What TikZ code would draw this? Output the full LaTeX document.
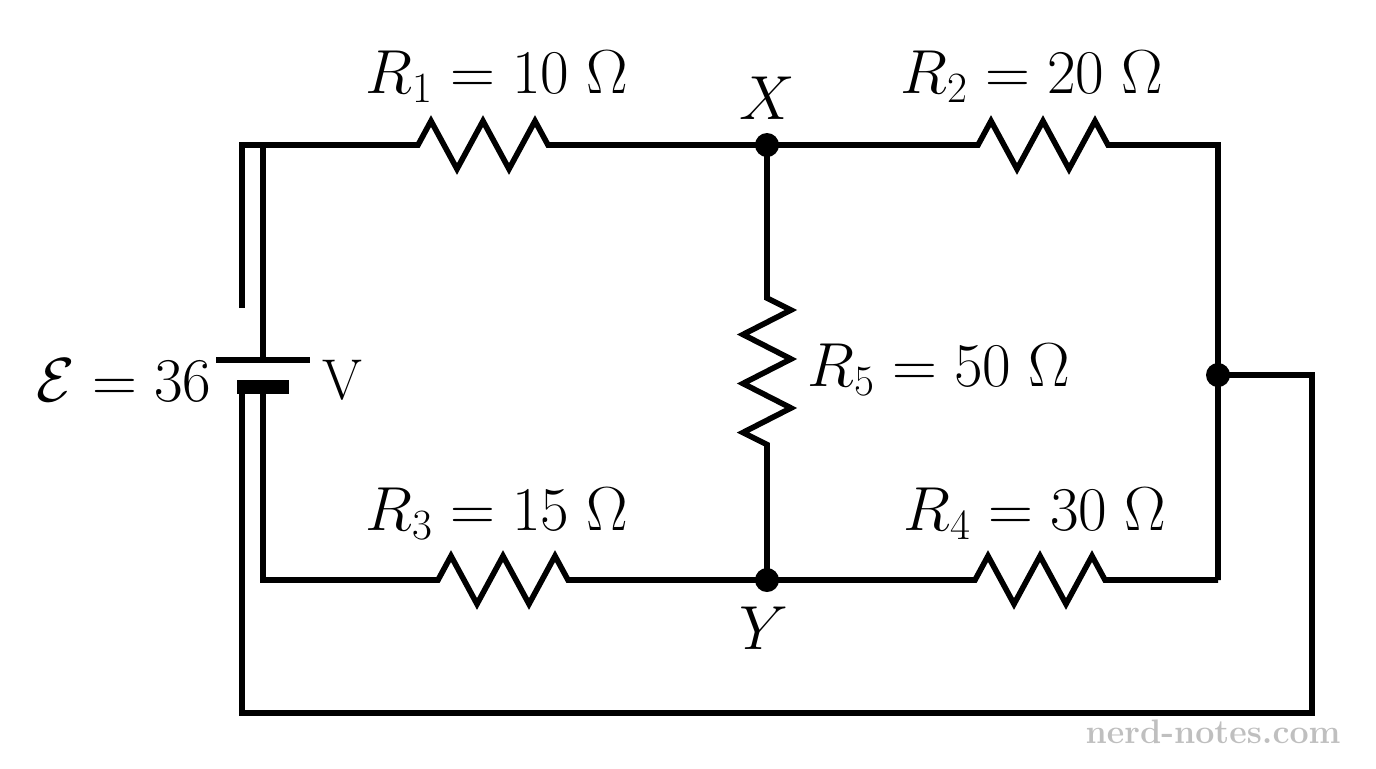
\documentclass[tikz,border=0pt]{standalone}
\usepackage{fontspec}
\usepackage{graphicx}
\newcommand{\bigtxt}[1]{\scalebox{1.25}{\fontsize{23}{27}\selectfont #1}}
\begin{document}
\begin{tikzpicture}[x=0.5pt,y=-0.5pt,line width=2.8pt,
  lbl/.style={inner sep=0pt},
  dot/.style={circle,fill=black,inner sep=0pt,minimum size=12pt}]
\useasboundingbox (0,0) rectangle (1376,768);
\def\hres{-- ++(13,-24) -- ++(26,48) -- ++(26,-48) -- ++(26,48) -- ++(26,-48) -- ++(13,24)}
\def\vres{-- ++(24,12) -- ++(-48,24.5) -- ++(48,24.5) -- ++(-48,24.5) -- ++(48,24.5) -- ++(-48,24.5) -- ++(24,12)}
\coordinate (tl) at (263,145);
\coordinate (tl2) at (242,145);
\coordinate (stub) at (242,308);
\coordinate (bp) at (263,360);
\coordinate (bn) at (263,387);
\coordinate (bn2) at (242,387);
\node[dot] (X) at (767,145) {};
\node[dot] (Y) at (767,580) {};
\node[dot] (M) at (1218,375) {};
\coordinate (tr) at (1218,145);
\coordinate (br) at (1218,580);
\coordinate (bl) at (263,580);
% top branch
\draw[line cap=butt] (stub) -- (tl2) -- (tl) -- (bp);
\draw (tl) -- (418,145) \hres -- (X.center) -- (978,145) \hres -- (tr) -- (br);
% bottom branch
\draw (bn) -- (bl) -- (438,580) \hres -- (Y.center) -- (975,580) \hres -- (br);
% R5
\draw (X.center) -- (767,298) \vres -- (Y.center);
% outer loop
\draw (M.center) -- (1312,375) -- (1312,713) -- (242,713) -- (bn2);
% battery
\draw (216,360) -- (310,360);
\draw[line width=7pt] (237,387) -- (289,387);
% labels
\node[lbl,anchor=east] (E) at (214,380) {\bigtxt{$\mathcal{E}=36$}};
\node[lbl,anchor=west] (V) at (320,380) {\bigtxt{V}};
\node[lbl] (l1) at (497,77) {\bigtxt{$R_1=10\ \Omega$}};
\node[lbl] (l2) at (1032,77) {\bigtxt{$R_2=20\ \Omega$}};
\node[lbl] (l3) at (497,514) {\bigtxt{$R_3=15\ \Omega$}};
\node[lbl] (l4) at (1035,514) {\bigtxt{$R_4=30\ \Omega$}};
\node[lbl,anchor=west] (l5) at (805,370) {\bigtxt{$R_5=50\ \Omega$}};
\node[lbl] (lx) at (767,98) {\bigtxt{$X$}};
\node[lbl] (ly) at (764,628) {\bigtxt{$Y$}};
\node[font=\fontsize{17}{20}\selectfont\bfseries,text=black!25,anchor=east] (wm) at (1350,732) {nerd-notes.com};
\end{tikzpicture}
\end{document}
